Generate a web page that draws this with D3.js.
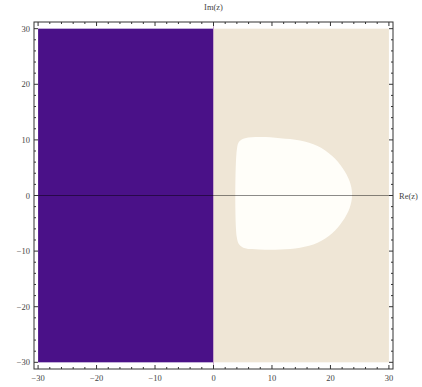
<!DOCTYPE html>
<html>
<head>
<meta charset="utf-8">
<script src="https://cdn.jsdelivr.net/npm/d3@7"></script>
<style>
  body { margin: 0; background: #fff; }
  text { font-family: "Liberation Serif", "DejaVu Serif", serif; fill: #444; }
</style>
</head>
<body>
<svg id="chart" width="422" height="387"></svg>
<script>
/// data ///
// plot range and tick values
const xDomain = [-30.7, 30.7]
const yDomain = [-31.2, 31.2]
const majorTicks = [-30, -20, -10, 0, 10, 20, 30]
const minorTicks = d3.range(-30, 31, 2)

// the two half planes that are filled
const leftRegion = { re: [-30, 0], im: [-30, 30] }
const rightRegion = { re: [0, 30], im: [-30, 30] }

// boundary of the white hole as [re, im]
const holeBoundary = [
  [4.0, 8.3], [4.4, 9.7], [5.4, 10.3], [7.9, 10.5], [11.4, 10.3],
  [14.8, 9.9], [17.8, 8.9], [20.3, 7.1], [22.1, 4.9], [23.3, 2.5], [23.7, 0.2],
  [23.3, -2.2], [22.1, -4.6], [20.3, -6.8], [17.8, -8.5], [14.8, -9.4],
  [11.4, -9.7], [7.9, -9.7], [5.4, -9.5], [4.4, -8.8], [4.0, -7.6]
]

/// constants ///
const margin = { top: 22, bottom: 18, left: 34, right: 29 }
const width = 422
const height = 387

const svg = d3.select("#chart")

/// scales ///
const x = d3.scaleLinear().domain(xDomain).range([margin.left, width - margin.right])
const y = d3.scaleLinear().domain(yDomain).range([height - margin.bottom, margin.top])

// filled regions
svg.append("rect")
  .attr("x", x(leftRegion.re[0])).attr("y", y(leftRegion.im[1]))
  .attr("width", x(leftRegion.re[1]) - x(leftRegion.re[0]))
  .attr("height", y(leftRegion.im[0]) - y(leftRegion.im[1]))
  .attr("fill", "#4a1188")
svg.append("rect")
  .attr("x", x(rightRegion.re[0])).attr("y", y(rightRegion.im[1]))
  .attr("width", x(rightRegion.re[1]) - x(rightRegion.re[0]))
  .attr("height", y(rightRegion.im[0]) - y(rightRegion.im[1]))
  .attr("fill", "#efe6d6")

// the hole
svg.append("path")
  .datum(holeBoundary)
  .attr("d", d3.line().x(d => x(d[0])).y(d => y(d[1])).curve(d3.curveCatmullRomClosed))
  .attr("fill", "#fffef9")

// axes through the origin
svg.append("line")
  .attr("x1", x(0)).attr("x2", x(0))
  .attr("y1", y(yDomain[1])).attr("y2", y(yDomain[0]))
  .attr("stroke", "#c9a9c9").attr("stroke-width", 1)
svg.append("line")
  .attr("x1", x(xDomain[0])).attr("x2", x(xDomain[1]))
  .attr("y1", y(0)).attr("y2", y(0))
  .attr("stroke", "#000").attr("stroke-opacity", 0.45).attr("stroke-width", 1.2)

svg.append("text")
  .attr("x", x(xDomain[1]) + 6).attr("y", y(0) + 3)
  .attr("font-size", 8.5).text("Re(z)")
svg.append("text")
  .attr("x", x(0)).attr("y", 10)
  .attr("text-anchor", "middle").attr("font-size", 8.5).text("Im(z)")

/// frame with inward ticks ///
const frame = svg.append("g")
frame.append("rect")
  .attr("x", x(xDomain[0])).attr("y", y(yDomain[1]))
  .attr("width", x(xDomain[1]) - x(xDomain[0]))
  .attr("height", y(yDomain[0]) - y(yDomain[1]))
  .attr("fill", "none").attr("stroke", "#333").attr("stroke-width", 1)

const tickLen = t => majorTicks.includes(t) ? 4 : 2
minorTicks.forEach(t => {
  frame.append("line").attr("x1", x(t)).attr("x2", x(t))
    .attr("y1", y(yDomain[0])).attr("y2", y(yDomain[0]) - tickLen(t))
    .attr("stroke", "#333")
  frame.append("line").attr("x1", x(t)).attr("x2", x(t))
    .attr("y1", y(yDomain[1])).attr("y2", y(yDomain[1]) + tickLen(t))
    .attr("stroke", "#333")
  frame.append("line").attr("y1", y(t)).attr("y2", y(t))
    .attr("x1", x(xDomain[0])).attr("x2", x(xDomain[0]) + tickLen(t))
    .attr("stroke", "#333")
  frame.append("line").attr("y1", y(t)).attr("y2", y(t))
    .attr("x1", x(xDomain[1])).attr("x2", x(xDomain[1]) - tickLen(t))
    .attr("stroke", "#333")
})

// tick labels
majorTicks.forEach(t => {
  svg.append("text")
    .attr("x", x(t)).attr("y", y(yDomain[0]) + 12)
    .attr("text-anchor", "middle").attr("font-size", 8.5)
    .text(t < 0 ? "\u2212" + (-t) : t)
  svg.append("text")
    .attr("x", x(xDomain[0]) - 4).attr("y", y(t) + 3)
    .attr("text-anchor", "end").attr("font-size", 8.5)
    .text(t < 0 ? "\u2212" + (-t) : t)
})
</script>
</body>
</html>
